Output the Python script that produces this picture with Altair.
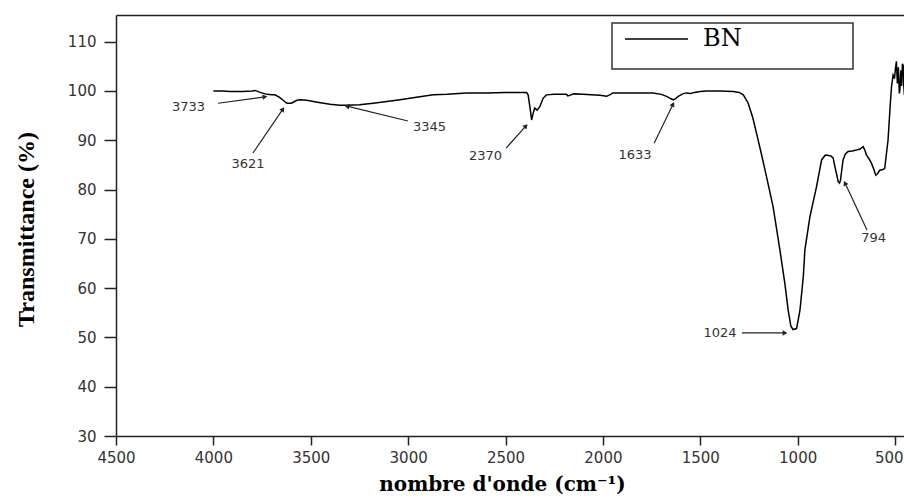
import math
import altair as alt
import pandas as pd

# ---------------- data ----------------
wavenumber = [4000, 3950, 3915, 3850, 3800, 3786, 3760, 3725, 3700, 3684, 3660, 3648,
              3630, 3622, 3600, 3585, 3571, 3555, 3520, 3480, 3450, 3401, 3350, 3316,
              3250, 3179, 3100, 3042, 2957, 2871, 2800, 2700, 2600, 2500, 2420, 2392,
              2384, 2375, 2366, 2358, 2350, 2338, 2324, 2307, 2290, 2250, 2200, 2187,
              2180, 2170, 2150, 2101, 2060, 2015, 1981, 1960, 1949, 1900, 1800, 1743,
              1700, 1673, 1650, 1639, 1625, 1613, 1590, 1571, 1550, 1530, 1500, 1468,
              1400, 1331, 1300, 1279, 1254, 1230, 1211, 1185, 1160, 1126, 1091, 1066,
              1049, 1035, 1024, 1006, 995, 988, 971, 963, 937, 903, 877, 860, 852, 830,
              818, 808, 801, 792, 785, 780, 767, 755, 741, 720, 698, 680, 664, 655, 647,
              630, 621, 610, 599, 590, 579, 565, 553, 545, 536, 525, 518, 510, 503, 498,
              493, 488, 483, 478, 475, 470, 466, 462, 458, 455, 452, 448, 444, 440, 434,
              428, 420]
transmittance = [100.0, 100.0, 99.9, 99.9, 100.0, 100.1, 99.7, 99.3, 99.2, 99.2, 98.7, 98.3,
                 97.7, 97.5, 97.5, 97.8, 98.1, 98.2, 98.1, 97.8, 97.6, 97.3, 97.1, 97.1,
                 97.2, 97.5, 97.9, 98.2, 98.7, 99.2, 99.3, 99.6, 99.6, 99.7, 99.7, 99.7,
                 99.2, 96.8, 94.1, 95.5, 96.5, 96.1, 96.8, 98.5, 99.2, 99.3, 99.3, 99.3,
                 99.0, 99.1, 99.4, 99.3, 99.2, 99.1, 98.9, 99.3, 99.6, 99.6, 99.6, 99.6,
                 99.3, 98.9, 98.4, 98.2, 98.5, 98.9, 99.4, 99.6, 99.5, 99.7, 99.9, 100.0,
                 100.0, 99.9, 99.7, 99.2, 97.5, 94.5, 91.4, 87.0, 82.6, 76.5, 67.7, 61.0,
                 55.6, 52.3, 51.6, 51.8, 54.0, 55.6, 62.3, 67.7, 74.5, 80.6, 86.0, 86.9, 87.0, 86.8,
                 86.4, 84.5, 83.3, 81.6, 81.3, 81.9, 86.0, 87.2, 87.7, 87.8, 88.0, 88.2, 88.7, 88.0, 87.0,
                 86.0, 85.3, 84.2, 82.9, 83.2, 83.9, 84.0, 84.3, 87.0, 90.0, 97.0, 100.9, 103.2, 102.5, 104.5,
                 106.0, 101.5, 104.8, 99.5, 100.2, 104.2, 101.0, 105.5, 105.1, 101.0, 99.2, 103.0, 104.5, 101.5, 103.6,
                 102.0, 103.0]
series_name = "BN"

ann_label = ["3733", "3621", "3345", "2370", "1633", "1024", "794"]
ann_text_x = [4128, 3822, 2890, 2603, 1835, 1399, 610]
ann_text_y = [96.7, 85.2, 92.7, 86.8, 87.0, 50.9, 70.2]
arrow_x1 = [3976, 3797, 3001, 2497, 1737, 1286, 644]
arrow_y1 = [97.5, 87.4, 93.9, 88.4, 89.4, 50.9, 71.8]
arrow_x2 = [3735, 3643, 3314, 2395, 1640, 1065, 757]
arrow_y2 = [98.8, 96.3, 96.9, 92.9, 97.3, 50.9, 81.3]

x_ticks = [4500, 4000, 3500, 3000, 2500, 2000, 1500, 1000, 500]
y_ticks = [30, 40, 50, 60, 70, 80, 90, 100, 110]

# ---------------- layout ----------------
W, H = 788, 421
X_MIN, X_MAX = 454, 4500
Y_MIN, Y_MAX = 30, 115.4

spec = pd.DataFrame({"wn": wavenumber, "T": transmittance, "series": series_name})

sx = W / (X_MAX - X_MIN)
sy = H / (Y_MAX - Y_MIN)
angles = []
for x1, y1, x2, y2 in zip(arrow_x1, arrow_y1, arrow_x2, arrow_y2):
    dxp = -(x2 - x1) * sx
    dyp = -(y2 - y1) * sy
    angles.append(math.degrees(math.atan2(dxp, -dyp)) % 360)

ann = pd.DataFrame({"label": ann_label, "tx": ann_text_x, "ty": ann_text_y})
arrows = pd.DataFrame({"x1": arrow_x1, "y1": arrow_y1, "x2": arrow_x2, "y2": arrow_y2,
                       "angle": angles})

xscale = alt.Scale(domain=[X_MIN, X_MAX], reverse=True, nice=False, zero=False)
yscale = alt.Scale(domain=[Y_MIN, Y_MAX], nice=False, zero=False)

last_tick = "datum.value == " + str(x_ticks[-1])
xaxis = alt.Axis(values=x_ticks, format="d", grid=False, tickSize=9, tickWidth=1.5,
                 domainWidth=1.5, domainColor="#222", tickColor="#222",
                 labelFont="DejaVu Sans", labelFontSize=15, labelColor="#333",
                 labelPadding=5, labelFlush=False,
                 labelAlign={"condition": {"test": last_tick, "value": "right"}, "value": "center"},
                 labelOffset={"condition": {"test": last_tick, "value": 8}, "value": 0},
                 title="nombre d'onde (cm\u207b\u00b9)", titleFont="DejaVu Serif",
                 titleFontSize=20, titleFontWeight="bold", titleColor="#000",
                 titleX=386, titleY=54, titleAlign="center", titleBaseline="alphabetic")
xaxis_top = alt.Axis(orient="top", labels=False, ticks=False, title=None, grid=False,
                     domainWidth=1.5, domainColor="#222")
yaxis = alt.Axis(values=y_ticks, format="d", grid=False, tickSize=12, tickWidth=1.5,
                 domainWidth=1.5, domainColor="#222", tickColor="#222",
                 labelFont="DejaVu Sans", labelFontSize=15, labelColor="#333",
                 labelPadding=8,
                 title="Transmittance (%)", titleFont="Liberation Serif",
                 titleFontSize=24, titleFontWeight="bold", titleColor="#000",
                 titleAngle=270, titleX=-83, titleY=214, titleAlign="center",
                 titleBaseline="alphabetic")

pad = "\u00a0" * 14 + "\u200b"

line = alt.Chart(spec).mark_line(strokeWidth=1.5, clip=True).encode(
    x=alt.X("wn:Q", scale=xscale, axis=xaxis),
    y=alt.Y("T:Q", scale=yscale, axis=yaxis),
    color=alt.Color("series:N", scale=alt.Scale(range=["#000000"]),
                    legend=alt.Legend(
                        title="\u00a0", titleOrient="bottom", titleFontSize=14, titlePadding=0,
                        orient="none", legendX=496, legendY=8, padding=4,
                        symbolType="M-5,0L5,0", symbolSize=159, symbolStrokeWidth=1.5,
                        symbolOffset=28.5, labelOffset=34.5,
                        labelFont="DejaVu Serif", labelFontSize=24, labelColor="#000",
                        labelLimit=400,
                        labelExpr="datum.label + '" + pad + "'")),
    order=alt.Order("idx:Q"),
).transform_window(idx="row_number()")

rules = alt.Chart(arrows).mark_rule(color="#222", strokeWidth=1.2).encode(
    x=alt.X("x1:Q", scale=xscale, axis=xaxis_top), y=alt.Y("y1:Q", scale=yscale),
    x2="x2:Q", y2="y2:Q")

heads = alt.Chart(arrows).mark_point(shape="triangle-up", filled=True, color="#222",
                                     size=30, opacity=1).encode(
    x=alt.X("x2:Q", scale=xscale, axis=None), y=alt.Y("y2:Q", scale=yscale),
    angle=alt.Angle("angle:Q", scale=None))

texts = alt.Chart(ann).mark_text(font="DejaVu Sans", fontSize=13, color="#333",
                                 align="center", baseline="middle").encode(
    x=alt.X("tx:Q", scale=xscale, axis=None), y=alt.Y("ty:Q", scale=yscale), text="label:N")

chart = alt.layer(line, rules, heads, texts).resolve_axis(x="independent").properties(
    width=W, height=H,
    autosize=alt.AutoSizeParams(type="none"),
    padding={"left": 108, "top": 7, "right": 0, "bottom": 60},
).configure_view(stroke=None).configure_legend(
    strokeColor="#333", strokeWidth=1.5, fillColor="#fff")

chart.save("out.html", embed_options={"renderer": "svg", "actions": False})
